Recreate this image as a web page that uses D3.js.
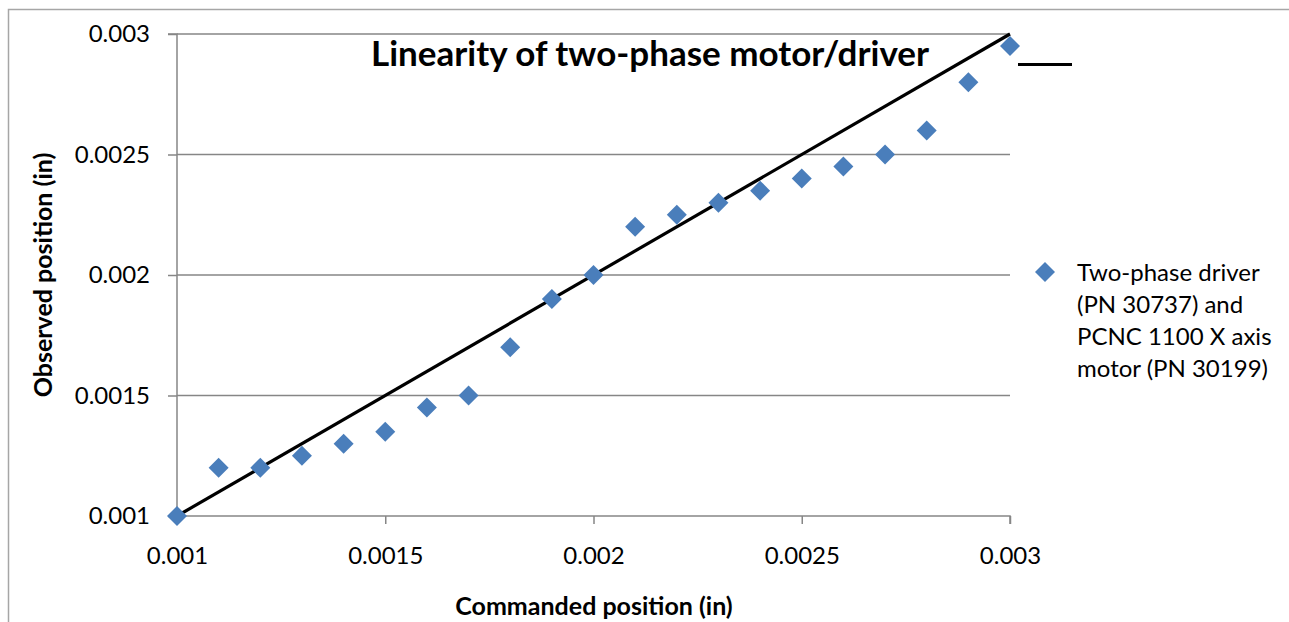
<!DOCTYPE html>
<html>
<head>
<meta charset="utf-8">
<script src="https://cdn.jsdelivr.net/npm/d3@7"></script>
<style>
  body { margin: 0; background: #fff; }
  svg { font-family: Lato, "Open Sans", sans-serif; }
</style>
</head>
<body>
<svg id="chart" width="1289" height="622"></svg>
<script>
var commanded = [0.001, 0.0011, 0.0012, 0.0013, 0.0014, 0.0015, 0.0016, 0.0017, 0.0018, 0.0019,
                 0.002, 0.0021, 0.0022, 0.0023, 0.0024, 0.0025, 0.0026, 0.0027, 0.0028, 0.0029, 0.003];
var observed = [0.001, 0.0012, 0.0012, 0.00125, 0.0013, 0.00135, 0.00145, 0.0015, 0.0017, 0.0019,
                0.002, 0.0022, 0.00225, 0.0023, 0.00235, 0.0024, 0.00245, 0.0025, 0.0026, 0.0028, 0.00295];
var idealLine = [[0.001, 0.001], [0.003, 0.003]];
var xTicks = [0.001, 0.0015, 0.002, 0.0025, 0.003];
var yTicks = [0.001, 0.0015, 0.002, 0.0025, 0.003];
var legendLines = ["Two-phase driver", "(PN 30737) and", "PCNC 1100 X axis", "motor (PN 30199)"];

var vis = d3.select("#chart"),
    MARGINS = { top: 34, right: 1010, bottom: 516, left: 177 },
    AXIS = "#868686",
    BLUE = "#4a7ebb";

var xScale = d3.scaleLinear().domain([0.001, 0.003]).range([MARGINS.left, MARGINS.right]);
var yScale = d3.scaleLinear().domain([0.001, 0.003]).range([MARGINS.bottom, MARGINS.top]);

// outer chart border (only left and top visible)
vis.append("path")
  .attr("d", "M8.5,622V9.5H1289")
  .attr("fill", "none")
  .attr("stroke", "#a6a6a6")
  .attr("stroke-width", 1.5);

// horizontal gridlines
vis.append("g")
  .selectAll("line")
  .data(yTicks.slice(1))
  .enter().append("line")
  .attr("x1", MARGINS.left).attr("x2", MARGINS.right)
  .attr("y1", function(d) { return yScale(d); })
  .attr("y2", function(d) { return yScale(d); })
  .attr("stroke", AXIS).attr("stroke-width", 1.5);

var fmt = function(d) { return String(+d.toFixed(4)); };
var xAxis = d3.axisBottom(xScale).tickValues(xTicks).tickSize(8).tickPadding(23).tickFormat(fmt);
var yAxis = d3.axisLeft(yScale).tickValues(yTicks).tickSize(9).tickPadding(18).tickFormat(fmt);

var gx = vis.append("g")
  .attr("transform", "translate(0," + MARGINS.bottom + ")")
  .call(xAxis);
var gy = vis.append("g")
  .attr("transform", "translate(" + MARGINS.left + ",0)")
  .call(yAxis);

[gx, gy].forEach(function(g) {
  g.select(".domain").attr("stroke", AXIS).attr("stroke-width", 1.5);
  g.selectAll(".tick line").attr("stroke", AXIS).attr("stroke-width", 1.5);
  g.selectAll(".tick text").attr("fill", "#000").style("font-size", "24px").style("font-family", "Lato");
});
gx.select(".domain").attr("d", "M" + MARGINS.left + ",0H" + MARGINS.right + "V8");
gy.select(".domain").attr("d", "M-9," + MARGINS.top + "H0V" + MARGINS.bottom);

// ideal line
var lineGen = d3.line()
  .x(function(d) { return xScale(d[0]); })
  .y(function(d) { return yScale(d[1]); });

vis.append("path")
  .attr("d", lineGen(idealLine))
  .attr("fill", "none")
  .attr("stroke", "#000")
  .attr("stroke-width", 3.2);

// data points
var diamond = d3.symbol().type(d3.symbolSquare).size(200);
vis.append("g")
  .selectAll("path")
  .data(commanded)
  .enter().append("path")
  .attr("d", diamond)
  .attr("transform", function(d, i) {
    return "translate(" + xScale(d) + "," + yScale(observed[i]) + ") rotate(45)";
  })
  .attr("fill", BLUE);

// title
vis.append("text")
  .attr("x", 650).attr("y", 66)
  .attr("text-anchor", "middle")
  .style("font-size", "35px").style("font-weight", "bold")
  .text("Linearity of two-phase motor/driver");

// axis titles
vis.append("text")
  .attr("x", 594).attr("y", 615)
  .attr("text-anchor", "middle")
  .style("font-size", "25px").style("font-weight", "bold")
  .text("Commanded position (in)");

vis.append("text")
  .attr("transform", "translate(52,275) rotate(-90)")
  .attr("text-anchor", "middle")
  .style("font-size", "25px").style("font-weight", "bold")
  .text("Observed position (in)");

// legend
vis.append("line")
  .attr("x1", 1018).attr("x2", 1072)
  .attr("y1", 64.5).attr("y2", 64.5)
  .attr("stroke", "#000").attr("stroke-width", 3);

vis.append("path")
  .attr("d", diamond)
  .attr("transform", "translate(1045,272) rotate(45)")
  .attr("fill", BLUE);

vis.append("g")
  .selectAll("text")
  .data(legendLines)
  .enter().append("text")
  .attr("x", 1077)
  .attr("y", function(d, i) { return 281 + i * 32; })
  .style("font-size", "24px")
  .text(function(d) { return d; });
</script>
</body>
</html>
